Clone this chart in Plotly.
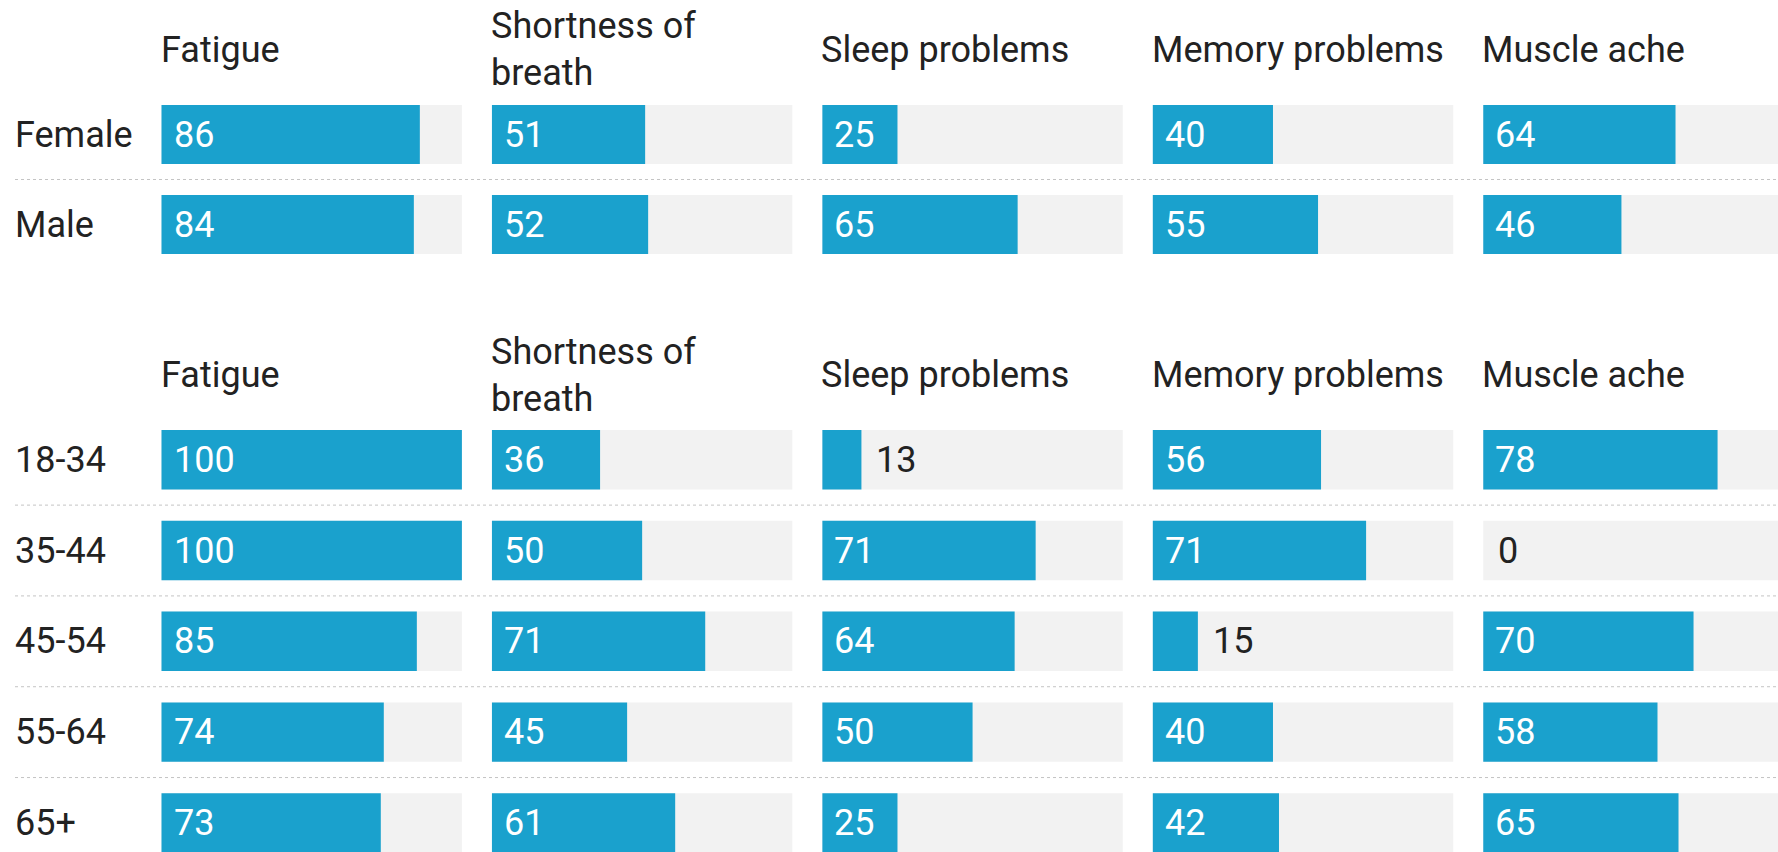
import plotly.graph_objects as go

# ------------------------------
# dati
# ------------------------------
symptoms = ["Fatigue", "Shortness of<br>breath", "Sleep problems", "Memory problems", "Muscle ache"]

sex_groups = ["Female", "Male"]
fatigue_sex = [86, 84]
breath_sex = [51, 52]
sleep_sex = [25, 65]
memory_sex = [40, 55]
muscle_sex = [64, 46]

age_groups = ["18-34", "35-44", "45-54", "55-64", "65+"]
fatigue_age = [100, 100, 85, 74, 73]
breath_age = [36, 50, 71, 45, 61]
sleep_age = [13, 71, 64, 50, 25]
memory_age = [56, 71, 15, 40, 42]
muscle_age = [78, 0, 70, 58, 65]

sex_values = [fatigue_sex, breath_sex, sleep_sex, memory_sex, muscle_sex]
age_values = [fatigue_age, breath_age, sleep_age, memory_age, muscle_age]

# ------------------------------
# stile
# ------------------------------
BLUE = "#1aa1cd"
TRACK = "#f2f2f2"
TEXT = "#222222"
FONT = "Roboto"
FSIZE = 36
W, H = 1778, 852
PITCH = 110          # colonna larga 100 + spazio 10
X0_PX = 161.5        # inizio prima colonna in pixel
PX_UNIT = 3.004      # pixel per unità sull'asse x

fig = go.Figure()
annotations = []
shapes = []


def add_block(groups, values, yaxis, yref):
    for k, vals in enumerate(values):
        base = k * PITCH
        # barra di sfondo
        fig.add_trace(go.Bar(
            y=groups, x=[100] * len(groups), base=base, orientation="h",
            marker=dict(color=TRACK, line=dict(width=0)),
            yaxis=yaxis, hoverinfo="skip", showlegend=False))
        # barra del valore
        fig.add_trace(go.Bar(
            y=groups, x=vals, base=base, orientation="h",
            marker=dict(color=BLUE, line=dict(width=0)),
            yaxis=yaxis, showlegend=False))
        for g, v in zip(groups, vals):
            inside = v >= 20
            annotations.append(dict(
                x=base if inside else base + v, xref="x", y=g, yref=yref,
                text=str(v), showarrow=False, xanchor="left", yanchor="middle",
                xshift=10 if inside else 13,
                font=dict(family=FONT, size=FSIZE, color="white" if inside else TEXT)))
    # etichette di riga
    for g in groups:
        annotations.append(dict(
            x=13 / W, xref="paper", y=g, yref=yref, text=g, showarrow=False,
            xanchor="left", yanchor="middle",
            font=dict(family=FONT, size=FSIZE, color=TEXT)))
    # separatori tratteggiati
    for i in range(len(groups) - 1):
        shapes.append(dict(
            type="line", xref="paper", x0=15 / W, x1=1, yref=yref,
            y0=i + 0.5, y1=i + 0.5,
            line=dict(color="#c4c4c4", width=1, dash="dot")))


def add_headers(y_px):
    for k, s in enumerate(symptoms):
        annotations.append(dict(
            x=k * PITCH, xref="x", y=1 - y_px / H, yref="paper", text=s,
            showarrow=False, xanchor="left", yanchor="middle", align="left",
            xshift=-3,
            font=dict(family=FONT, size=FSIZE, color=TEXT)))


add_block(sex_groups, sex_values, "y", "y")
add_block(age_groups, age_values, "y2", "y2")
add_headers(50)
add_headers(375)

fig.update_layout(
    width=W, height=H,
    margin=dict(l=0, r=0, t=0, b=0),
    paper_bgcolor="white", plot_bgcolor="white",
    barmode="overlay", bargap=0.345,
    showlegend=False,
    annotations=annotations, shapes=shapes,
    xaxis=dict(range=[-X0_PX / PX_UNIT, (W - X0_PX) / PX_UNIT], visible=False, fixedrange=True),
    yaxis=dict(domain=[1 - 269.5 / H, 1 - 89.5 / H], type="category",
               categoryarray=sex_groups, range=[1.5, -0.5], visible=False),
    yaxis2=dict(domain=[0, 1 - 414.3 / H], type="category", anchor="x",
                categoryarray=age_groups, range=[4.32, -0.5], visible=False),
)

# niente margine del body, il grafico parte dall'angolo in alto a sinistra
fig.write_html("out.html", config={"displayModeBar": False},
               post_script="document.body.style.margin='0';")
